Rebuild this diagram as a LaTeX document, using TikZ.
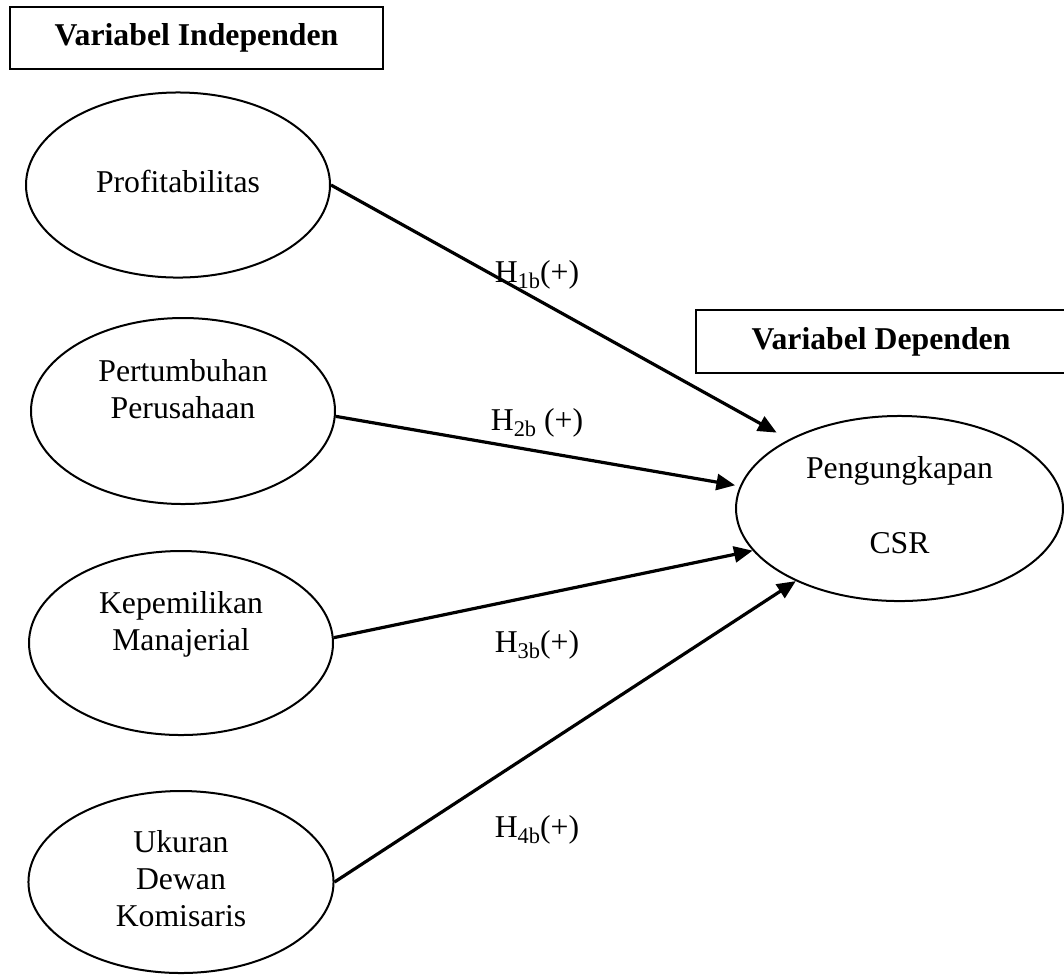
\documentclass[tikz,border=0pt]{standalone}
\usepackage{fontspec}
\setmainfont{Liberation Serif}
\usetikzlibrary{shapes.geometric,arrows.meta}
\newcommand{\fs}{\fontsize{11.9}{13.9}\selectfont}
\newcommand{\sbs}[1]{\raisebox{-2.6pt}{\fontsize{8.4}{9}\selectfont #1}}
\tikzset{
  var/.style={ellipse, draw, line width=0.75pt, inner sep=0pt, align=center, font=\fs},
  hbox/.style={draw, line width=0.75pt, inner sep=0pt, font=\fs\bfseries},
  link/.style={-{Triangle[length=7pt,width=6pt]}, line width=1.2pt},
  hyp/.style={anchor=base, inner sep=0pt, font=\fs}
}
\begin{document}
\begin{tikzpicture}[x=0.375pt, y=-0.375pt]
\useasboundingbox (0,0) rectangle (1064,974);
% header boxes
\node[hbox, minimum width=139.9pt, minimum height=23.25pt] (indep) at (196.5,38) {Variabel Independen};
\node[hbox, minimum width=138.75pt, minimum height=23.6pt] (dep) at (881,341.5) {Variabel Dependen};
% independent variables
\node[var, minimum width=114pt, minimum height=69.4pt] (prof) at (178,185) {\strut Profitabilitas};
\node[var, minimum width=114pt, minimum height=69.75pt] (pert) at (183,411) {\strut Pertumbuhan\\\strut Perusahaan\\\strut};
\node[var, minimum width=114pt, minimum height=69pt] (kep) at (181,643) {\strut Kepemilikan\\\strut Manajerial\\\strut};
\node[var, minimum width=114.4pt, minimum height=68.25pt] (uk) at (181,882) {\strut Ukuran\\\strut Dewan\\\strut Komisaris};
% dependent variable
\node[var, minimum width=122.6pt, minimum height=69.4pt] (csr) at (899.5,508.5) {\strut Pengungkapan\\[14pt]\strut CSR};
% connectors
\draw[link, shorten >=5.2pt] (prof.east) -- (csr.148.4);
\draw[link, shorten >=1.8pt] (pert.-2.6) -- (csr.172.9);
\draw[link] (kep.2.3) -- (csr.196.75);
\draw[link] (uk.east) -- (csr.215.7);
% hypothesis labels
\node[hyp] (h1) at (537,282) {H\sbs{1b}(+)};
\node[hyp] (h2) at (537,430) {H\sbs{2b} (+)};
\node[hyp] (h3) at (537,652) {H\sbs{3b}(+)};
\node[hyp] (h4) at (537,837) {H\sbs{4b}(+)};
\end{tikzpicture}
\end{document}
